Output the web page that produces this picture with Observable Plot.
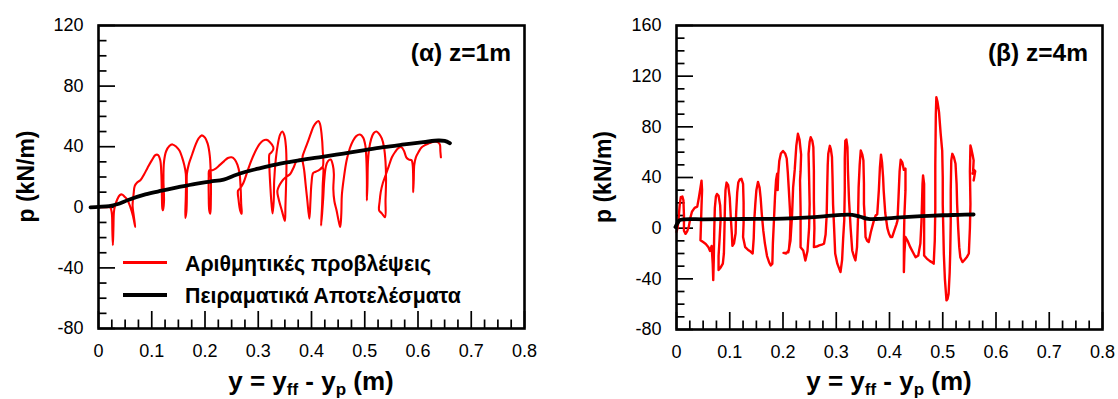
<!DOCTYPE html>
<html><head><meta charset="utf-8">
<script src="https://cdn.jsdelivr.net/npm/d3@7"></script>
<script src="https://cdn.jsdelivr.net/npm/@observablehq/plot@0.6"></script>
<style>
body{margin:0;background:#fff;}
#wrap{position:relative;width:1118px;height:399px;overflow:hidden;background:#fff;}
#wrap svg{position:absolute;top:0;}
</style></head><body><div id="wrap"></div>
<script>
// ---------- DATA ----------
const xTicks = [0, 0.1, 0.2, 0.3, 0.4, 0.5, 0.6, 0.7, 0.8];
const leftYTicks = [-80, -40, 0, 40, 80, 120];
const rightYTicks = [-80, -40, 0, 40, 80, 120, 160];
const panelLabels = ["(α) z=1m", "(β) z=4m"];
const yTitle = "p (kN/m)";
const xTitleParts = ["y = y", "ff", " - y", "p", " (m)"];
const legendLabels = ["Αριθμητικές προβλέψεις", "Πειραματικά Αποτελέσματα"];

// Panel (α): numerical predictions (red), x = y (m), p (kN/m)
const leftRedX = [0.000,0.012,0.022,0.025,0.026,0.027,0.028,0.029,0.031,0.035,0.040,0.044,0.049,0.054,0.060,0.065,0.069,
0.066,0.064,0.066,0.068,0.073,0.079,0.086,0.092,0.100,0.107,0.112,0.116,0.118,0.119,0.120,0.121,
0.123,0.122,0.123,0.127,0.133,0.139,0.146,0.152,0.157,0.161,0.164,0.164,0.163,
0.165,0.166,0.166,0.170,0.176,0.182,0.188,0.194,0.200,0.205,0.209,0.211,0.211,0.210,
0.208,0.207,0.207,0.208,0.214,0.220,0.228,0.236,0.243,0.250,0.256,0.261,0.265,0.267,0.268,0.269,
0.266,0.263,0.262,0.266,0.272,0.279,0.286,0.294,0.302,0.309,0.316,0.322,0.328,0.328,0.324,0.321,0.321,0.323,0.325,0.327,
0.329,0.330,0.333,0.337,0.341,0.345,0.349,0.352,0.353,0.352,0.351,0.350,
0.345,0.338,0.336,0.344,0.352,0.360,0.366,0.372,0.378,0.382,0.386,0.389,0.392,0.396,
0.398,0.400,0.403,0.408,0.414,0.421,
0.421,0.419,0.416,0.413,0.409,0.404,0.399,0.394,0.388,0.383,
0.386,0.389,0.392,0.396,0.398,0.400,0.403,0.408,0.414,0.421,0.421,0.420,0.418,
0.420,0.422,0.424,0.427,0.431,0.436,0.440,0.442,0.441,0.443,0.447,0.451,0.454,
0.456,0.457,0.461,0.466,0.472,0.478,0.484,0.491,0.497,0.501,0.503,0.504,0.504,
0.505,0.506,0.508,0.512,0.517,0.522,0.527,0.532,0.536,0.539,0.540,0.539,0.538,
0.532,0.527,0.528,0.530,0.534,0.539,0.545,0.551,0.557,0.563,0.569,0.574,0.578,
0.583,0.588,0.590,0.591,0.591,0.592,0.593,0.596,0.601,0.607,0.613,0.619,0.626,0.632,0.637,0.641,0.642,0.643];
const leftRedP = [0,0,0,-4,-15,-25,-14,-3,1,5,8,8.5,7,5,0,-6,-13,
-5,1,9,14,16.5,18,22,26,31,34.5,34.5,31,22,8,-1,-2,
4,18,30,37,40.5,41.5,40,37.5,33,28,22,8,-7,
-3,10,22,29,35,41,45.5,47.5,46,42,34,20,5,-4.3,
-2,8,20,24.5,24.5,25.5,28,30.5,32.5,33,31.5,28,22,12,2,-4.3,
-2,5,11,12.5,16,23,30,36.5,41.5,44,44.5,43,40,38,36,35,26,12,2,-4,
4,18,32,42,48,50,47.5,40,28,12,0,-9,
-3,6,11,17,20,22,26,30.5,31.5,31,25,15,5,-7.6,
4,16,22.5,23.5,24.5,26.5,
38,48,55,57,56,53.5,49,44,38.5,33,
25,15,5,-7.6,4,16,22.5,23.5,24.5,26.5,14,2,-12,
-4,6,18,27,30.5,31.5,28,22,12,4,-2,-9,-13,
-4,8,20,31,39,44,47,48,46,41,32,18,4.5,
14,30,38,45,49,50,48.5,45.5,40,30,18,5,-6.5,
-4,-2,4,10,16,21,27,33,36.5,39,39.7,37,33,
31.5,31,28,18,10,18,28,33,36.5,39.7,41,42,43,43.4,43,41.5,37,33];

// Panel (α): experimental results (black)
const leftBlackX = [-0.015,0.000,0.020,0.035,0.057,0.088,0.119,0.150,0.182,0.210,0.235,0.255,0.275,0.300,0.330,0.360,0.390,0.420,0.460,0.500,0.535,0.570,0.610,0.638,0.650,0.660];
const leftBlackP = [0,0.3,0.8,2,5,8.5,11,13.3,15.5,17,18.3,21,23.3,25.5,28,30,31.8,33.3,35.5,37.8,39.7,41.3,43,44.1,43.8,42.3];

// Panel (β): numerical predictions (red)
const rightRedX = [0.000,0.002,0.004,0.006,0.008,0.011,0.013,0.014,0.014,0.017,0.020,0.023,0.026,0.029,0.034,0.039,0.042,0.045,0.047,0.048,0.047,0.046,0.045,0.050,0.055,0.060,0.063,0.066,0.068,0.069,0.070,0.071,0.072,0.074,0.076,0.079,0.082,0.083,0.081,0.079,0.079,0.083,0.087,0.089,0.090,0.091,0.092,0.094,0.097,0.100,0.102,0.104,0.105,0.108,0.111,0.112,0.114,0.116,0.119,0.122,0.125,0.126,0.126,0.125,0.129,0.134,0.139,0.143,0.145,0.146,0.148,0.150,0.153,0.156,0.158,0.160,0.163,0.166,0.170,0.174,0.177,0.180,0.181,0.183,0.185,0.187,0.189,0.190,0.191,0.193,0.196,0.200,0.204,0.207,0.209,0.211,0.213,0.214,0.213,0.211,0.206,0.201,0.210,0.214,0.217,0.219,0.222,0.225,0.228,0.231,0.234,0.233,0.232,0.233,0.233,0.233,0.238,0.242,0.246,0.249,0.250,0.249,0.248,0.250,0.252,0.255,0.257,0.258,0.258,0.259,0.258,0.263,0.268,0.273,0.277,0.280,0.282,0.283,0.284,0.285,0.288,0.290,0.292,0.293,0.294,0.296,0.298,0.302,0.308,0.311,0.313,0.315,0.316,0.316,0.317,0.319,0.321,0.322,0.324,0.327,0.330,0.333,0.336,0.339,0.341,0.342,0.344,0.346,0.349,0.351,0.352,0.352,0.354,0.355,0.358,0.361,0.365,0.370,0.374,0.377,0.380,0.382,0.384,0.386,0.388,0.389,0.392,0.396,0.399,0.402,0.405,0.409,0.413,0.415,0.417,0.419,0.421,0.424,0.427,0.430,0.430,0.428,0.427,0.427,0.428,0.430,0.434,0.439,0.444,0.449,0.454,0.458,0.460,0.461,0.462,0.463,0.465,0.465,0.465,0.465,0.470,0.476,0.480,0.483,0.485,0.486,0.486,0.487,0.488,0.490,0.493,0.496,0.499,0.500,0.500,0.501,0.502,0.504,0.507,0.509,0.511,0.513,0.514,0.515,0.515,0.516,0.518,0.521,0.524,0.526,0.527,0.529,0.531,0.533,0.537,0.540,0.545,0.549,0.551,0.552,0.551,0.552,0.554,0.556,0.558,0.557,0.556,0.559,0.561,0.559,0.558];
const rightRedP = [-3,0,8,18,24.5,25,22,10,-2,-4.5,-2.5,1,8,13,16,17,24,32,37.5,30,18,4,-9.5,-11,-12.5,-15,-18,-14,-28,-41,-25,0,16,25,27,25.5,18,8,-8,-22,-33,-31,-28,-20,-2,18,30,36,34,24,8,-5,-14,-12,-4,12,28,36,38.5,39,35,20,4,-7,-15,-17,-18.5,-20,-8,6,19,30,36.5,32,24,12,-2,-12,-22,-27,-29.5,-28,-12,6,25,38,43,30,42,53,59,61,59,55,44,30,15,5,-8,-17.5,-20,-19.5,-19,-10,10,32,46,65,74.5,70,58,45,37.7,15,-5,-15,-17.6,-25.5,-18,0,19,40,58.7,68,71.8,69,64,45,22,0,-15,-14.5,-13.6,-13,-12.3,-5,10,32,50,58.7,65,62,56,40,19,0,-20,-28,-34.7,-25,-8,6,30,55,69,70,64,45,22,0,-17.6,-22,-25.5,-15,10,32,50,61.3,58,53.5,35,19,5,-7,-10,-11,-3,5,10,11,30,48,58,52,40,30,12,0,-4.4,-7,-7,-2,3,6,25,45,54,52,46,47,30,10,-10,-34.7,-20,-7,-10,-15,-19,-23,-21.6,-12,5,19,35,41.6,35,15,-5,-21.6,-24,-26,-27,-28,-10,15,50,90,103.4,100,91.6,75,61,40,19,0,-20,-40,-57,-56,-51.8,-35,-20,5,30,53.5,58.7,56,50.8,35,19,0,-15,-23,-26.8,-25.5,-23,-20,0,19,45,65.3,62,58,53.5,45,43,46,45,40,37.7];

// Panel (β): experimental results (black)
const rightBlackX = [-0.002,0.002,0.006,0.015,0.050,0.100,0.150,0.200,0.250,0.280,0.310,0.330,0.345,0.360,0.380,0.420,0.460,0.500,0.530,0.558];
const rightBlackP = [0.8,4,6.3,7,7,7.2,7.3,7.5,8.5,9.5,10.5,10.5,9,7.3,7.3,8.5,9.5,10.2,10.5,10.8];

// ---------- DRAWING ----------
const FONT = "'Liberation Sans', Arial, Helvetica, sans-serif";
const W = 559, H = 399, MT = 25;
const MAJ = 17, MIN = 8.5;

function panel(cfg) {
  const red = cfg.redX.map((x, i) => ({x, p: cfg.redP[i]}));
  const black = cfg.blackX.map((x, i) => ({x, p: cfg.blackP[i]}));
  const pw = W - cfg.ml - cfg.mr, ph = H - MT - cfg.mb;
  const xMinor = d3.range(0, 33).map(i => i * 0.025).filter((d, i) => i % 4 !== 0);
  const [y0, y1] = cfg.yDomain;
  const yMinor = d3.range(y0, y1 + 1, 10).filter(d => d % 40 !== 0);
  const svg = Plot.plot({
    width: W, height: H,
    marginLeft: cfg.ml, marginRight: cfg.mr, marginTop: MT, marginBottom: cfg.mb,
    style: {fontFamily: FONT, background: "white", overflow: "visible", color: "black"},
    x: {domain: [0, 0.8]},
    y: {domain: cfg.yDomain},
    marks: [
      Plot.axisX(xTicks, {tickSize: 0, tickPadding: 16, fontSize: 18, label: null,
        tickFormat: d => d === 0 ? "0" : d3.format(".1f")(d)}),
      Plot.axisY(cfg.yTicks, {tickSize: 0, tickPadding: 15, fontSize: 18, label: null,
        tickFormat: d => String(d)}),
      Plot.tickX(xTicks, {x: d => d, insetTop: ph - MAJ, stroke: "black", strokeWidth: 1.7}),
      Plot.tickX(xMinor, {x: d => d, insetTop: ph - MIN, stroke: "black", strokeWidth: 1.7}),
      Plot.tickY(cfg.yTicks, {y: d => d, insetRight: pw - MAJ, stroke: "black", strokeWidth: 1.7}),
      Plot.tickY(yMinor, {y: d => d, insetRight: pw - MIN, stroke: "black", strokeWidth: 1.7}),
      Plot.line(red, {x: "x", y: "p", stroke: "#ff0000", strokeWidth: cfg.redW, strokeLinejoin: "round",
        curve: cfg.curve}),
      Plot.line(black, {x: "x", y: "p", stroke: "#000", strokeWidth: 3.8, strokeLinecap: "round",
        curve: "catmull-rom"}),
      Plot.frame({stroke: "black", strokeWidth: 2.6})
    ]
  });
  const s = d3.select(svg);
  // y title
  s.append("text").attr("transform", `translate(${cfg.yTitleX},${(MT + H - cfg.mb) / 2}) rotate(-90)`)
    .attr("text-anchor", "middle").attr("font-family", FONT).attr("font-weight", "bold")
    .attr("font-size", 23).attr("fill", "black").text(yTitle);
  // x title with subscripts
  const t = s.append("text").attr("x", cfg.ml + pw / 2).attr("y", 390)
    .attr("text-anchor", "middle").attr("font-family", FONT).attr("font-weight", "bold")
    .attr("font-size", 26).attr("fill", "black");
  xTitleParts.forEach((part, i) => {
    const sub = i % 2 === 1;
    const ts = t.append("tspan").text(part);
    if (sub) ts.attr("font-size", 17).attr("dy", 5);
    else if (i > 0) ts.attr("dy", -5);
  });
  // panel label
  s.append("text").attr("x", cfg.labelX).attr("y", 61).attr("text-anchor", "end")
    .attr("font-family", FONT).attr("font-weight", "bold").attr("font-size", 24.5)
    .attr("fill", "black").text(cfg.label);
  if (cfg.legend) {
    const items = [{c: "#ff0000", w: 2.8, y: 262.5}, {c: "#000", w: 3.8, y: 295}];
    items.forEach((it, i) => {
      s.append("line").attr("x1", 123).attr("x2", 167).attr("y1", it.y).attr("y2", it.y)
        .attr("stroke", it.c).attr("stroke-width", it.w);
      s.append("text").attr("x", 185).attr("y", it.y + 8).attr("text-anchor", "start")
        .attr("font-family", FONT).attr("font-weight", "bold").attr("font-size", 21.3)
        .attr("fill", "black").text(legendLabels[i]);
    });
  }
  svg.style.left = cfg.left + "px";
  return svg;
}

const wrap = document.getElementById("wrap");
wrap.appendChild(panel({left: 0, ml: 98, mr: 35, mb: 71, yDomain: [-80, 120], yTicks: leftYTicks,
  redX: leftRedX, redP: leftRedP, blackX: leftBlackX, blackP: leftBlackP, redW: 2.1, curve: "catmull-rom",
  yTitleX: 34, labelX: 511, label: panelLabels[0], legend: true}));
wrap.appendChild(panel({left: 559, ml: 117, mr: 16, mb: 70, yDomain: [-80, 160], yTicks: rightYTicks,
  redX: rightRedX, redP: rightRedP, blackX: rightBlackX, blackP: rightBlackP, redW: 2.4, curve: "linear",
  yTitleX: 52, labelX: 529, label: panelLabels[1], legend: false}));
</script></body></html>
